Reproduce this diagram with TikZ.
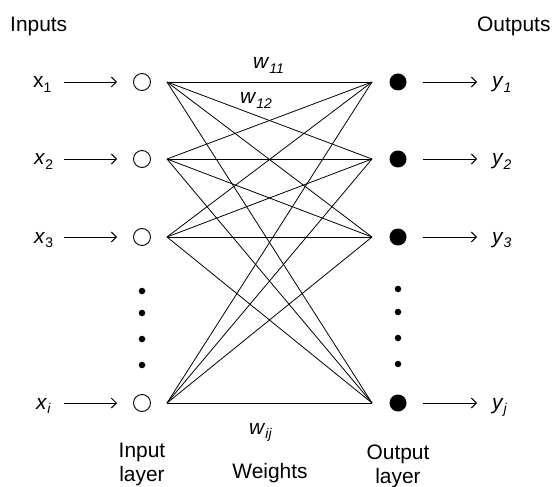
\documentclass[tikz,border=0pt]{standalone}
\usepackage{fontspec}
\setmainfont{Liberation Sans}
\usetikzlibrary{arrows.meta}
\newcommand\lowsub[1]{\raisebox{-0.22em}{\fontsize{14}{14}\selectfont #1}}
\begin{document}
\begin{tikzpicture}[x=1bp,y=-1bp,
  font=\fontsize{21}{25}\selectfont,
  inp/.style={circle,draw,line width=0.9bp,minimum size=17bp,inner sep=0},
  outp/.style={circle,fill,minimum size=17bp,inner sep=0},
  dotc/.style={circle,fill,minimum size=6.5bp,inner sep=0},
  wire/.style={line width=0.8bp},
  arr/.style={line width=0.9bp,-{Straight Barb[length=5bp,width=10bp,line width=0.9bp]}},
  lab/.style={inner sep=0,anchor=base west},
  ctr/.style={inner sep=0,anchor=base}]
\useasboundingbox (0,0) rectangle (553,487);

% nodes
\foreach \n/\y in {1/82,2/159,3/237,4/403}{
  \node[inp]  (i\n) at (142,\y) {};
  \node[outp] (o\n) at (398,\y) {};
  \coordinate (a\n) at (167,\y);
  \coordinate (b\n) at (372,\y);
  \coordinate (s\n) at (64,\y);
  \coordinate (e\n) at (117,\y);
  \coordinate (p\n) at (423,\y);
  \coordinate (q\n) at (477,\y);
}
% dots
\foreach \k/\y in {1/291,2/313,3/339,4/365}{
  \node[dotc] (di\k) at (142,\y) {};
}
\foreach \k/\y in {1/289,2/312,3/338,4/364}{
  \node[dotc] (do\k) at (398,\y) {};
}

% weights
\foreach \m in {1,2,3,4}{
  \foreach \n in {1,2,3,4}{
    \draw[wire] (a\m) -- (b\n);
  }
}

% arrows
\foreach \n in {1,2,3,4}{
  \draw[arr] (s\n) -- (e\n);
  \draw[arr] (p\n) -- (q\n);
}

% labels
\node[lab] (tin)  at (10,32)  {Inputs};
\node[lab] (tout) at (477,32) {Outputs};

\node[lab] (x1) at (33,88)  {x\lowsub{1}};
\node[lab] (x2) at (34,165) {\textit{x}\lowsub{2}};
\node[lab] (x3) at (34,243) {\textit{x}\lowsub{3}};
\node[lab] (x4) at (36,409) {\textit{x}\lowsub{\textit{i}}};

\node[lab] (y1) at (492,88)  {\textit{y}\lowsub{\textit{1}}};
\node[lab] (y2) at (492,165) {\textit{y}\lowsub{\textit{2}}};
\node[lab] (y3) at (492,243) {\textit{y}\lowsub{\textit{3}}};
\node[lab] (y4) at (492,409) {\textit{y}\lowsub{\textit{j}}};

\node[lab] (w11) at (253,69)  {\textit{w}\lowsub{\textit{11}}};
\node[lab] (w12) at (240,104) {\textit{w}\lowsub{\textit{12}}};
\node[lab] (wij) at (249,434) {\textit{w}\lowsub{\textit{ij}}};

\node[ctr] (il1) at (142,457) {Input};
\node[ctr] (il2) at (142,481) {layer};
\node[ctr] (wt)  at (270,478) {Weights};
\node[ctr] (ol1) at (398,459) {Output};
\node[ctr] (ol2) at (398,483) {layer};
\end{tikzpicture}
\end{document}
